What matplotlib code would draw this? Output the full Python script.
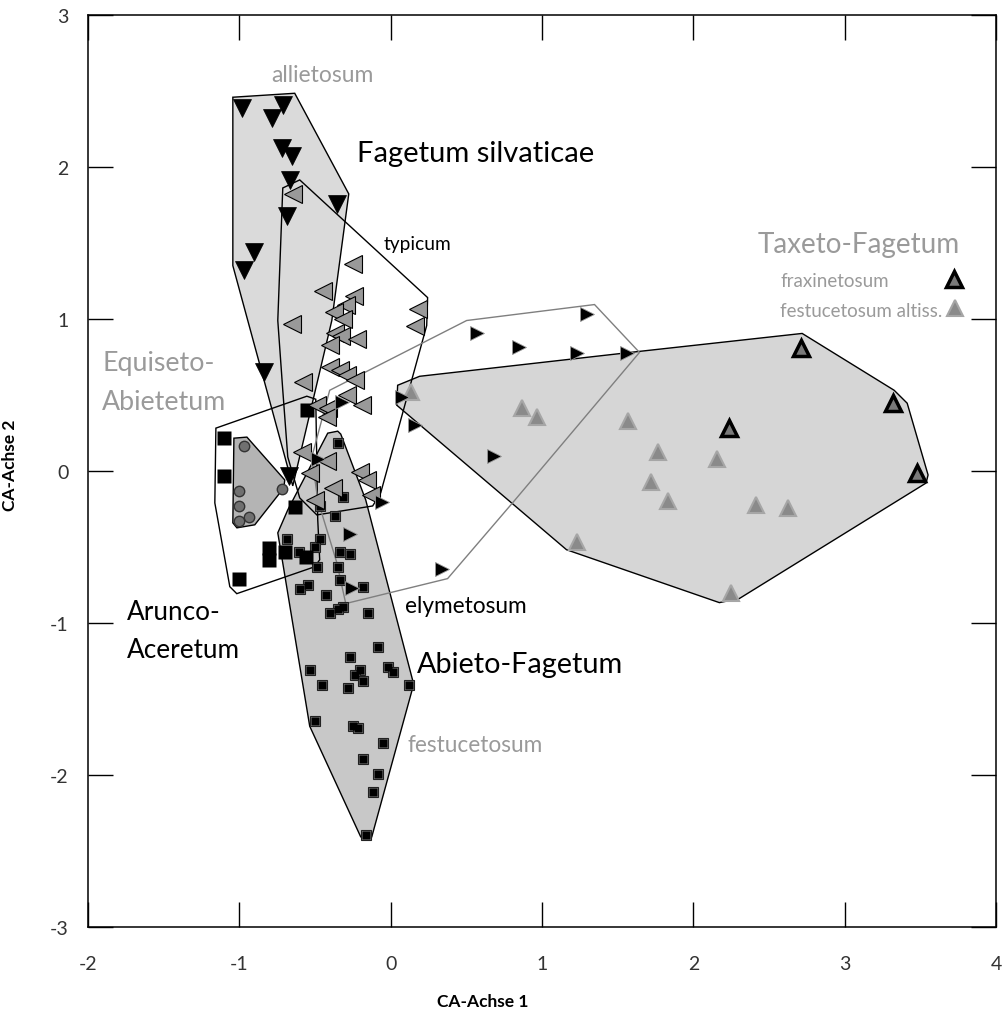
import matplotlib
matplotlib.use("Agg")
import matplotlib.pyplot as plt
from matplotlib.patches import Polygon

plt.rcParams['font.family'] = ['Lato', 'DejaVu Sans']
plt.rcParams['axes.unicode_minus'] = False

# --- data (CA scores) ---
# Fagetum silvaticae allietosum
alli_x = [-0.985, -0.711, -0.787, -0.721, -0.649, -0.662, -0.352, -0.684, -0.902, -0.970, -0.836, -0.671]
alli_y = [2.389, 2.411, 2.323, 2.123, 2.072, 1.913, 1.759, 1.679, 1.438, 1.323, 0.651, -0.033]

# Fagetum silvaticae typicum
typ_x = [-0.647, -0.251, -0.449, -0.244, -0.297, -0.376, 0.178, 0.158, -0.653, -0.317, -0.370,
         -0.330, -0.224, -0.403, -0.403, -0.337, -0.290, -0.238, -0.581, -0.290, -0.191, -0.488,
         -0.416, -0.422, -0.587, -0.422, -0.535, -0.205, -0.158, -0.383, -0.502, -0.132]
typ_y = [1.823, 1.364, 1.187, 1.148, 1.095, 1.043, 1.069, 0.957, 0.964, 1.003, 0.905,
         0.885, 0.866, 0.826, 0.682, 0.662, 0.630, 0.597, 0.584, 0.498, 0.433, 0.433,
         0.413, 0.354, 0.125, 0.066, -0.013, -0.007, -0.059, -0.111, -0.190, -0.157]

# Abieto-Fagetum elymetosum
ely_x = [0.568, 0.851, 1.294, 1.228, 1.564, 0.073, 0.158, 0.686, 0.337, -0.323, -0.482, -0.059, -0.271, -0.257]
ely_y = [0.911, 0.813, 1.036, 0.774, 0.774, 0.485, 0.302, 0.098, -0.643, 0.452, 0.079, -0.203, -0.413, -0.767]

# Abieto-Fagetum festucetosum
fest_x = [-0.350, -0.317, -0.469, -0.370, -0.686, -0.469, -0.607, -0.502, -0.337, -0.271,
          -0.488, -0.350, -0.337, -0.548, -0.601, -0.185, -0.429, -0.317, -0.350, -0.403,
          -0.152, -0.086, -0.271, -0.535, -0.205, -0.238, -0.185, -0.455, -0.284, -0.020,
          0.013, 0.119, -0.502, -0.251, -0.218, -0.053, -0.185, -0.086, -0.119, -0.165]
fest_y = [0.184, -0.170, -0.230, -0.295, -0.446, -0.446, -0.531, -0.498, -0.531, -0.544,
          -0.630, -0.630, -0.715, -0.748, -0.774, -0.761, -0.813, -0.898, -0.911, -0.931,
          -0.931, -1.161, -1.226, -1.311, -1.311, -1.344, -1.384, -1.410, -1.430, -1.292,
          -1.325, -1.410, -1.646, -1.679, -1.692, -1.790, -1.895, -1.993, -2.111, -2.393]

# Arunco-Aceretum
aru_x = [-1.102, -1.102, -0.634, -0.554, -0.805, -0.805, -0.700, -0.561, -1.003]
aru_y = [0.216, -0.033, -0.236, 0.400, -0.505, -0.584, -0.531, -0.564, -0.708]

# Equiseto-Abietetum
equ_x = [-0.970, -0.719, -1.003, -1.003, -0.937, -1.003]
equ_y = [0.164, -0.118, -0.131, -0.230, -0.302, -0.328]

# Taxeto-Fagetum fraxinetosum / festucetosum altissimae
frax_x = [2.713, 3.320, 2.238, 3.479]
frax_y = [0.807, 0.446, 0.282, -0.013]
falt_x = [0.132, 0.871, 0.970, 1.571, 1.769, 1.723, 1.835, 2.158, 2.416, 2.627, 2.251, 1.234]
falt_y = [0.518, 0.413, 0.354, 0.328, 0.125, -0.072, -0.197, 0.079, -0.223, -0.243, -0.800, -0.466]

# hulls drawn around the groups
hull_alli_x = [-1.043, -0.634, -0.277, -0.389, -0.647, -1.043]
hull_alli_y = [2.459, 2.485, 1.823, 0.990, -0.098, 1.351]
hull_typ_x = [-0.713, -0.601, 0.244, 0.238, -0.066, -0.119, -0.488, -0.601, -0.680, -0.713, -0.746]
hull_typ_y = [1.862, 1.915, 1.141, 0.957, -0.144, -0.230, -0.289, -0.177, 0.092, 0.531, 0.990]
hull_ely_x = [-0.403, 0.502, 1.347, 1.644, 0.805, 0.376, -0.297, -0.356, -0.482, -0.521]
hull_ely_y = [0.531, 0.990, 1.095, 0.780, -0.210, -0.708, -0.872, -0.603, -0.190, 0.092]
hull_fest_x = [-0.416, -0.350, -0.330, -0.165, 0.152, -0.125, -0.198, -0.535, -0.746, -0.680]
hull_fest_y = [0.249, 0.262, 0.243, -0.190, -1.403, -2.407, -2.407, -1.679, -0.407, -0.256]
hull_aru_x = [-1.155, -0.554, -0.495, -0.482, -0.469, -0.502, -1.017, -1.063, -1.162]
hull_aru_y = [0.282, 0.492, 0.472, -0.321, -0.584, -0.630, -0.807, -0.761, -0.210]
hull_equ_x = [-1.036, -0.950, -0.700, -0.706, -0.898, -1.016, -1.043]
hull_equ_y = [0.216, 0.223, -0.059, -0.111, -0.354, -0.374, -0.341]
hull_tax_x = [0.046, 0.191, 1.644, 2.719, 3.327, 3.413, 3.551, 3.538, 2.304, 2.172, 1.162, 0.040]
hull_tax_y = [0.564, 0.623, 0.787, 0.905, 0.531, 0.446, -0.026, -0.079, -0.839, -0.866, -0.518, 0.433]

grey_txt = '#9a9a9a'

fig = plt.figure(figsize=(10.07, 10.12), dpi=100)
ax = fig.add_axes([0.0874, 0.0830, 0.9017, 0.9012])
ax.set_xlim(-2, 4)
ax.set_ylim(-3, 3)


def hull(xs, ys, face, edge, lw=1.0, z=1):
    p = Polygon(list(zip(xs, ys)), closed=True, facecolor=face, edgecolor=edge,
                linewidth=lw, zorder=z)
    ax.add_patch(p)


hull(hull_tax_x, hull_tax_y, '#d6d6d6', 'black', z=1)
hull(hull_alli_x, hull_alli_y, '#dadada', 'black', z=1.1)
hull(hull_fest_x, hull_fest_y, '#c8c8c8', 'black', z=1.2)
hull(hull_equ_x, hull_equ_y, '#b4b4b4', 'black', z=1.3)
hull(hull_typ_x, hull_typ_y, 'none', 'black', z=2)
hull(hull_aru_x, hull_aru_y, 'none', 'black', z=2)
hull(hull_ely_x, hull_ely_y, 'none', '#7f7f7f', z=2)

# points
ax.plot(falt_x, falt_y, ls='none', marker='^', ms=12, mfc='#8a8a8a', mec='#a6a6a6', mew=1.5, zorder=3)
ax.plot(frax_x, frax_y, ls='none', marker='^', ms=12, mfc='#7a7a7a', mec='black', mew=2.5, zorder=3)
ax.plot(fest_x, fest_y, ls='none', marker='s', ms=7.8, mfc='#8c8c8c', mec='#222222', mew=0.8, zorder=3)
ax.plot(fest_x, fest_y, ls='none', marker='s', ms=5.4, mfc='black', mec='none', zorder=3.1)
ax.plot(aru_x, aru_y, ls='none', marker='s', ms=9.5, mfc='black', mec='none', zorder=3.2)
ax.plot(equ_x, equ_y, ls='none', marker='o', ms=7.5, mfc='#707070', mec='#333333', mew=1, zorder=3.2)
ax.plot(typ_x, typ_y, ls='none', marker='<', ms=13, mfc='#999999', mec='black', mew=0.8, zorder=3.3)
ax.plot(alli_x, alli_y, ls='none', marker='v', ms=13, mfc='black', mec='black', mew=0.5, zorder=3.4)
ax.plot(ely_x, ely_y, ls='none', marker='>', ms=10.5, mfc='black', mec='#9a9a9a', mew=0.6, zorder=3.5)

# legend markers for Taxeto-Fagetum
ax.plot([3.724], [1.263], ls='none', marker='^', ms=12, mfc='#7a7a7a', mec='black', mew=2.5, clip_on=False)
ax.plot([3.730], [1.072], ls='none', marker='^', ms=12, mfc='#8a8a8a', mec='#a6a6a6', mew=1.5, clip_on=False)

# labels
ax.text(-0.452, 2.566, 'allietosum', color=grey_txt, fontsize=16.5, ha='center', va='baseline')
ax.text(-0.222, 2.039, 'Fagetum silvaticae', color='black', fontsize=21, va='baseline')
ax.text(-0.044, 1.461, 'typicum', color='black', fontsize=13.8, va='baseline')
ax.text(2.428, 1.441, 'Taxeto-Fagetum', color=grey_txt, fontsize=20.1, va='baseline')
ax.text(2.574, 1.217, 'fraxinetosum', color=grey_txt, fontsize=13.5, va='baseline')
ax.text(2.574, 1.020, 'festucetosum altiss.', color=grey_txt, fontsize=13.5, va='baseline')
ax.text(-1.907, 0.664, 'Equiseto-', color=grey_txt, fontsize=19.3, va='baseline')
ax.text(-1.907, 0.408, 'Abietetum', color=grey_txt, fontsize=19.3, va='baseline')
ax.text(-1.742, -0.974, 'Arunco-', color='black', fontsize=18.8, va='baseline')
ax.text(-1.742, -1.224, 'Aceretum', color='black', fontsize=18.8, va='baseline')
ax.text(0.095, -0.928, 'elymetosum', color='black', fontsize=16.3, va='baseline')
ax.text(0.174, -1.322, 'Abieto-Fagetum', color='black', fontsize=20.8, va='baseline')
ax.text(0.108, -1.842, 'festucetosum', color=grey_txt, fontsize=16.3, va='baseline')

# axes styling
ax.set_xticks([-2, -1, 0, 1, 2, 3, 4])
ax.set_yticks([-3, -2, -1, 0, 1, 2, 3])
ax.tick_params(direction='in', length=18, width=1, top=True, right=True,
               labelsize=14, labelcolor='#333333')
ax.tick_params(axis='x', pad=20)
ax.tick_params(axis='y', pad=14)
for s in ax.spines.values():
    s.set_linewidth(1.1)

ax.set_xlabel('CA-Achse 1', fontsize=12.5, fontweight='bold')
ax.set_ylabel('CA-Achse 2', fontsize=12.5, fontweight='bold')
ax.xaxis.set_label_coords(0.435, -0.072)
ax.yaxis.set_label_coords(-0.077, 0.507)

fig.savefig('out.png', dpi=100)
